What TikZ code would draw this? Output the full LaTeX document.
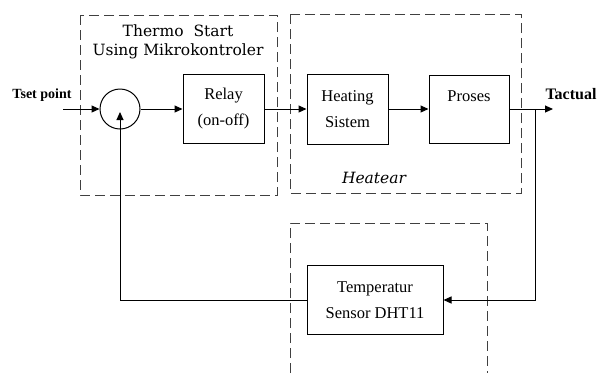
\documentclass[tikz,border=0pt]{standalone}
\usepackage{fontspec}
\setmainfont{Liberation Serif}
\newfontfamily\titlefont{DejaVu Serif}
\usetikzlibrary{arrows.meta}

\begin{document}
\begin{tikzpicture}[x=1pt, y=-1pt, line width=1pt,
		block/.style={rectangle, draw=black, text=black, align=center, font=\fontsize{16.5}{26}\selectfont},
		sum/.style={circle, draw=black, minimum size=40pt, inner sep=0pt},
		group/.style={draw=black!75, dash pattern=on 10pt off 5pt},
		flow/.style={-{Triangle[length=8pt, width=7pt]}}]
			\useasboundingbox (0,0) rectangle (601,373);

			% Define nodes with their coordinates
			\node[sum] (sum) at (120, 109) {};
			\node[block, minimum width=81pt, minimum height=69pt] (relay) at (223.5, 109) {Relay\\(on-off)};
			\node[block, minimum width=81pt, minimum height=70pt] (heat) at (347.5, 109) {Heating\\Sistem};
			\node[block, minimum width=80pt, minimum height=68pt] (proses) at (469, 109) {Proses\\~};
			\node[block, minimum width=136pt, minimum height=69pt] (sensor) at (375, 300) {Temperatur\\Sensor DHT11};
			\coordinate (in) at (63, 109);
			\coordinate (out) at (553, 109);
			\coordinate (branch) at (535, 109);

			% Dashed groups
			\draw[group] (80, 15) rectangle (277, 195);
			\draw[group] (290, 14) rectangle (521, 193);
			\draw[group] (290, 373) -- (290, 223) -- (487, 223) -- (487, 373);

			% Labels
			\node[font=\bfseries\fontsize{14}{16}\selectfont] (tset) at (42, 95) {Tset point};
			\node[font=\bfseries\fontsize{16}{18}\selectfont] (tact) at (571, 94) {Tactual};
			\node[font=\titlefont\fontsize{15.5}{19}\selectfont, align=center] (title) at (178, 42) {Thermo\ \ Start\\Using Mikrokontroler};
			\node[font=\titlefont\itshape\fontsize{15.5}{16}\selectfont] (heatear) at (374, 178) {Heatear};

			% Draw edges
			\draw[flow] (in) -- (sum);
			\draw[flow] (sum) -- (relay);
			\draw[flow] (relay) -- (heat);
			\draw[flow] (heat) -- (proses);
			\draw[flow] (proses) -- (out);
			\draw[flow] (branch) |- (sensor);
			\draw[flow, shorten >=3pt] (sensor.west) -| (sum.center);

		\end{tikzpicture}
\end{document}
